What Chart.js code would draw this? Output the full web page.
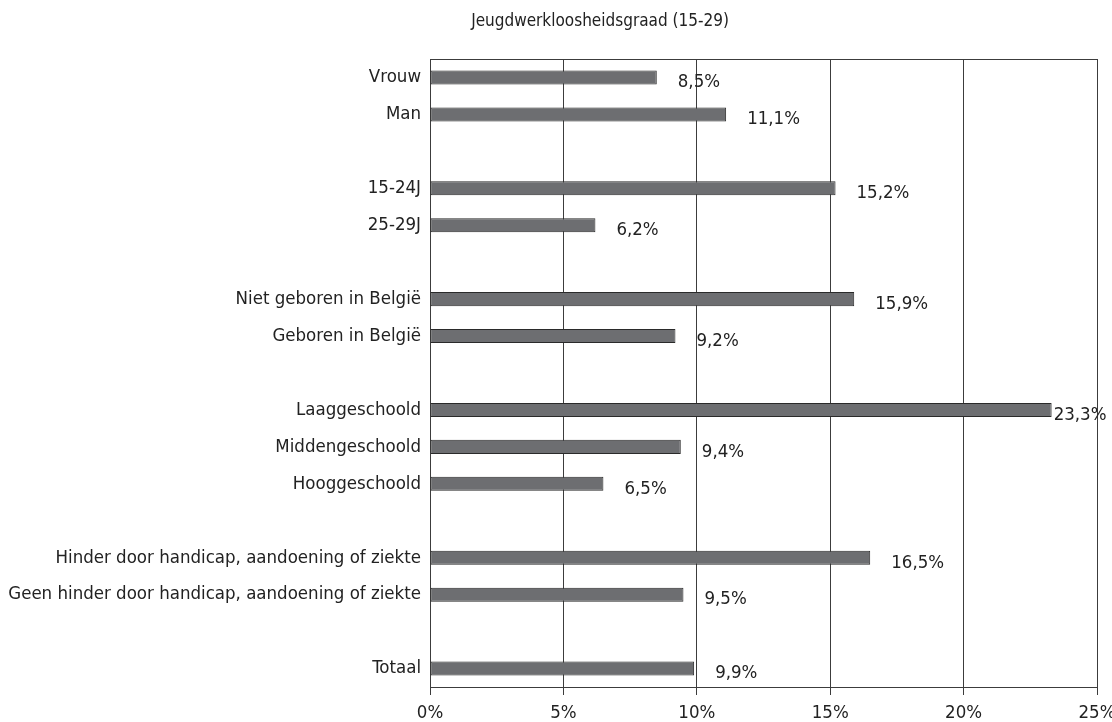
<!DOCTYPE html>
<html>
<head>
<meta charset="utf-8">
<script src="https://cdn.jsdelivr.net/npm/chart.js@4.4.1/dist/chart.umd.min.js"></script>
<style>
  html, body { margin: 0; padding: 0; background: #ffffff; }
  #wrap { width: 1112px; height: 722px; position: relative; }
</style>
</head>
<body>
<div id="wrap"><canvas id="c" width="1112" height="722"></canvas></div>
<script>
const chartTitle = "Jeugdwerkloosheidsgraad (15-29)";
const categories = [
  "Vrouw", "Man", "",
  "15-24J", "25-29J", "",
  "Niet geboren in België", "Geboren in België", "",
  "Laaggeschoold", "Middengeschoold", "Hooggeschoold", "",
  "Hinder door handicap, aandoening of ziekte", "Geen hinder door handicap, aandoening of ziekte", "",
  "Totaal"
];
const values = [
  8.5, 11.1, null,
  15.2, 6.2, null,
  15.9, 9.2, null,
  23.3, 9.4, 6.5, null,
  16.5, 9.5, null,
  9.9
];
const xTicks = [0, 5, 10, 15, 20, 25];

const FONT = "'DejaVu Sans Condensed', 'DejaVu Sans', sans-serif";
const FONT_SIZE = 18.5;
const TITLE_SIZE = 17;
const TEXT = "#222222";
const LINE = "#3c3c3c";

function fmt(v) { return v.toFixed(1).replace('.', ',') + '%'; }

const framePlugin = {
  id: 'frame',
  afterDraw(chart) {
    const ctx = chart.ctx, a = chart.chartArea;
    ctx.save();
    ctx.strokeStyle = LINE;
    ctx.lineWidth = 1;
    ctx.beginPath();
    ctx.moveTo(Math.round(a.left) + 0.5, Math.round(a.top) + 0.5);
    ctx.lineTo(Math.round(a.right) + 0.5, Math.round(a.top) + 0.5);
    ctx.stroke();
    ctx.fillStyle = TEXT;
    ctx.font = TITLE_SIZE + "px " + FONT;
    ctx.textAlign = 'center';
    ctx.textBaseline = 'middle';
    ctx.fillText(chartTitle, 600, 22);
    ctx.font = FONT_SIZE + "px " + FONT;
    const meta = chart.getDatasetMeta(0);
    ctx.textAlign = 'left';
    meta.data.forEach((bar, i) => {
      const v = values[i];
      if (v === null || v === undefined) return;
      const off = v > 20 ? 2 : 21;
      ctx.fillText(fmt(v), bar.x + off, bar.y + 5);
    });
    ctx.restore();
  }
};

new Chart(document.getElementById('c'), {
  type: 'bar',
  data: {
    labels: categories,
    datasets: [{
      data: values,
      backgroundColor: '#6d6e71',
      borderColor: '#2a2a2a',
      borderWidth: 1,
      borderSkipped: false,
      categoryPercentage: 1,
      barPercentage: 0.38
    }]
  },
  options: {
    indexAxis: 'y',
    responsive: false,
    animation: false,
    devicePixelRatio: 1,
    layout: { padding: { top: 59, right: 0, bottom: 0, left: 0 } },
    plugins: {
      legend: { display: false },
      title: { display: false },
      tooltip: { enabled: false }
    },
    scales: {
      x: {
        type: 'linear',
        min: 0,
        max: 25,
        afterBuildTicks(scale) { scale.ticks = xTicks.map(v => ({ value: v })); },
        afterFit(scale) { scale.height = 35; scale.paddingRight = 15; scale.paddingLeft = 0; },
        grid: { display: true, color: LINE, lineWidth: 1, drawTicks: true, tickLength: 8 },
        border: { display: true, color: LINE, width: 1 },
        ticks: {
          color: TEXT,
          padding: 7,
          maxRotation: 0,
          font: { family: FONT, size: FONT_SIZE },
          callback: v => v + '%'
        }
      },
      y: {
        type: 'category',
        afterFit(scale) { scale.width = 430; },
        grid: { display: false, drawTicks: false },
        border: { display: true, color: LINE, width: 1 },
        ticks: {
          color: TEXT,
          padding: 9,
          autoSkip: false,
          font: { family: FONT, size: FONT_SIZE }
        }
      }
    }
  },
  plugins: [framePlugin]
});
</script>
</body>
</html>
